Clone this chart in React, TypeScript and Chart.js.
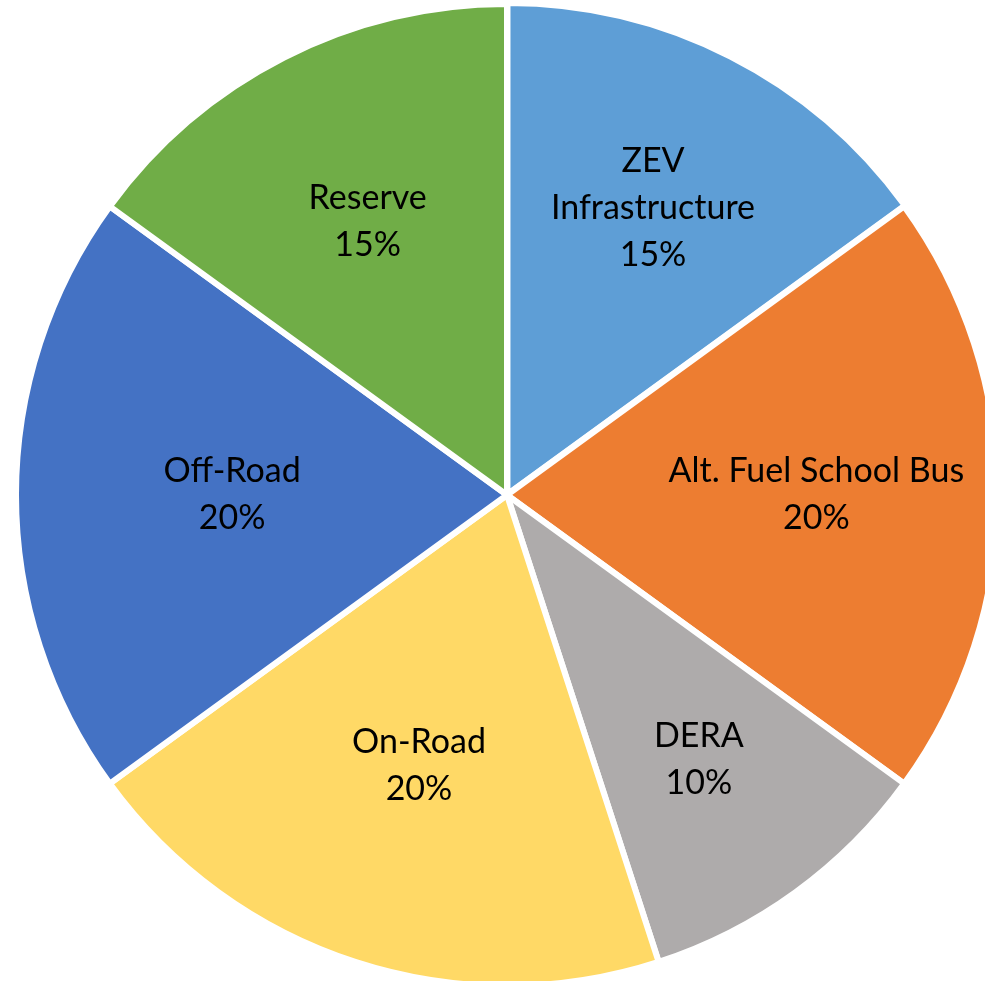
import React, { useEffect, useRef } from "react";
import { Chart, registerables } from "chart.js";

Chart.register(...registerables);

const categories = ["ZEV Infrastructure", "Alt. Fuel School Bus", "DERA", "On-Road", "Off-Road", "Reserve"];
const labelLines = [["ZEV", "Infrastructure"], ["Alt. Fuel School Bus"], ["DERA"], ["On-Road"], ["Off-Road"], ["Reserve"]];
const values = [15, 20, 10, 20, 20, 15];
const colors = ["#5E9ED6", "#ED7D31", "#AEABAB", "#FFD966", "#4472C4", "#70AD47"];
const explode = [4, 0, 0, 0, 0, 0];
const labelRadius = [0.655, 0.63, 0.665, 0.58, 0.56, 0.625];

const labelPlugin = {
  id: "sliceLabels",
  afterDatasetsDraw(chart: any) {
    const ctx = chart.ctx;
    const meta = chart.getDatasetMeta(0);
    const total = values.reduce((a, b) => a + b, 0);
    ctx.save();
    ctx.font = "34px Lato";
    ctx.fillStyle = "#000";
    ctx.textAlign = "center";
    ctx.textBaseline = "middle";
    const lineH = 47;
    meta.data.forEach((arc: any, i: number) => {
      const p = arc.getProps(["x", "y", "startAngle", "endAngle", "outerRadius"], true);
      const mid = (p.startAngle + p.endAngle) / 2;
      const r = p.outerRadius * labelRadius[i];
      const cx = p.x + Math.cos(mid) * r;
      const cy = p.y + Math.sin(mid) * r;
      const lines = [...labelLines[i], Math.round((values[i] / total) * 100) + "%"];
      const startY = cy - ((lines.length - 1) * lineH) / 2;
      lines.forEach((t, k) => ctx.fillText(t, cx, startY + k * lineH));
    });
    ctx.restore();
  },
};

export default function App() {
  const ref = useRef<HTMLCanvasElement | null>(null);
  useEffect(() => {
    if (!ref.current) return;
    const chart = new Chart(ref.current, {
      type: "pie",
      data: {
        labels: categories,
        datasets: [
          {
            data: values,
            backgroundColor: colors,
            borderColor: "#ffffff",
            borderWidth: 6,
            offset: explode,
            radius: 491,
          } as any,
        ],
      },
      options: {
        responsive: false,
        animation: false,
        layout: { padding: 0 },
        plugins: { legend: { display: false }, tooltip: { enabled: false } },
      },
      plugins: [labelPlugin],
    });
    return () => chart.destroy();
  }, []);
  return (
    <canvas
      ref={ref}
      width={990}
      height={990}
      style={{ position: "fixed", left: 12, top: 0, width: 990, height: 990 }}
    />
  );
}
